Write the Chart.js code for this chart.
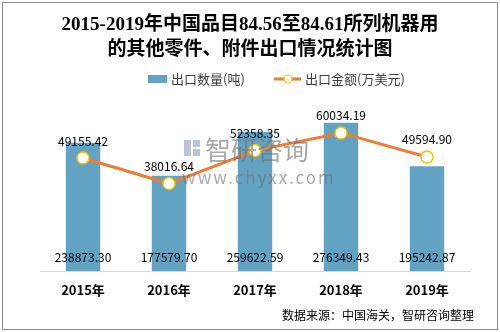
<!DOCTYPE html>
<html lang="zh">
<head>
  <meta charset="UTF-8" />
  <title>2015-2019年出口情况统计图</title>
  <script src="https://cdn.jsdelivr.net/npm/chart.js"></script>
  <style>
    html, body { margin: 0; padding: 0; background: #fff; }
    #wrap { width: 500px; height: 332px; }
  </style>
</head>
<body>
  <div id="wrap">
    <canvas id="exportChart" width="500" height="332"></canvas>
  </div>

  <script>
    // chart data
    const years = ["2015年", "2016年", "2017年", "2018年", "2019年"];
    const qtyTons = [238873.30, 177579.70, 259622.59, 276349.43, 195242.87];
    const valueUsd = [49155.42, 38016.64, 52358.35, 60034.19, 49594.90];
    const titleLines = ["2015-2019年中国品目84.56至84.61所列机器用", "的其他零件、附件出口情况统计图"];
    const seriesNames = ["出口数量(吨)", "出口金额(万美元)"];
    const sourceText = "数据来源：中国海关，智研咨询整理";

    const BAR_COLOR = "#62a3c4";
    const LINE_COLOR = "#ed7d31";
    const MARKER_EDGE = "#ffc000";
    const CJK = '"Noto Sans CJK SC", "Noto Sans", sans-serif';

    // draws title, legend, value labels, watermark, source and frame
    const decorations = {
      id: "decorations",
      afterDatasetsDraw(chart) {
        const ctx = chart.ctx;
        ctx.save();

        // watermark
        ctx.globalAlpha = 0.6;
        ctx.fillStyle = "#8a9bb5";
        ctx.fillRect(184, 140, 7, 16);
        ctx.fillRect(193, 140, 7, 7);
        ctx.fillRect(193, 149, 7, 7);
        ctx.fillStyle = "#707070";
        ctx.font = "26px " + CJK;
        ctx.textAlign = "left";
        ctx.textBaseline = "middle";
        ctx.fillText("智研咨询", 205, 150);
        ctx.font = "17px " + CJK;
        ctx.letterSpacing = "2px";
        ctx.fillText("www.chyxx.com", 182, 178);
        ctx.letterSpacing = "0px";
        ctx.globalAlpha = 1;

        // value labels
        ctx.fillStyle = "#000";
        ctx.font = "12px " + CJK;
        ctx.textAlign = "center";
        ctx.textBaseline = "middle";
        chart.getDatasetMeta(1).data.forEach((bar, i) => {
          ctx.fillText(qtyTons[i].toFixed(2), bar.x, chart.chartArea.bottom - 14);
        });
        chart.getDatasetMeta(0).data.forEach((pt, i) => {
          ctx.fillText(valueUsd[i].toFixed(2), pt.x, pt.y - 17);
        });

        ctx.restore();
      },
      afterDraw(chart) {
        const ctx = chart.ctx;
        ctx.save();

        // title
        ctx.fillStyle = "#000";
        ctx.textAlign = "center";
        ctx.textBaseline = "middle";
        ctx.font = 'bold 19px "Liberation Serif", ' + CJK;
        ctx.fillText(titleLines[0], 250, 25);
        ctx.fillText(titleLines[1], 250, 50);

        // legend
        ctx.font = "13px " + CJK;
        ctx.textAlign = "left";
        ctx.fillStyle = BAR_COLOR;
        ctx.fillRect(148, 75, 19, 8);
        ctx.fillStyle = "#404040";
        ctx.fillText(seriesNames[0], 171, 79);

        ctx.strokeStyle = LINE_COLOR;
        ctx.lineWidth = 3;
        ctx.beginPath();
        ctx.moveTo(274, 79);
        ctx.lineTo(301, 79);
        ctx.stroke();
        ctx.beginPath();
        ctx.arc(288, 79, 4, 0, Math.PI * 2);
        ctx.fillStyle = "#fff";
        ctx.fill();
        ctx.lineWidth = 1.2;
        ctx.strokeStyle = MARKER_EDGE;
        ctx.stroke();
        ctx.fillStyle = "#404040";
        ctx.fillText(seriesNames[1], 305, 79);

        // source
        ctx.fillStyle = "#000";
        ctx.font = "12px " + CJK;
        ctx.textAlign = "right";
        ctx.fillText(sourceText, 474, 315);

        // frame
        ctx.strokeStyle = "#8c8c8c";
        ctx.lineWidth = 1;
        ctx.strokeRect(2.5, 2.5, 495, 327);

        ctx.restore();
      }
    };

    const ctx = document.getElementById("exportChart").getContext("2d");
    new Chart(ctx, {
      data: {
        labels: years,
        datasets: [
          {
            type: "line",
            label: seriesNames[1],
            data: valueUsd,
            yAxisID: "y1",
            order: 0,
            borderColor: LINE_COLOR,
            borderWidth: 3,
            tension: 0,
            pointRadius: 6,
            pointBackgroundColor: "#fff",
            pointBorderColor: MARKER_EDGE,
            pointBorderWidth: 1.5
          },
          {
            type: "bar",
            label: seriesNames[0],
            data: qtyTons,
            yAxisID: "y",
            order: 1,
            backgroundColor: BAR_COLOR,
            categoryPercentage: 0.8,
            barPercentage: 0.5
          }
        ]
      },
      options: {
        responsive: false,
        animation: false,
        layout: { padding: { top: 110, left: 40, right: 30, bottom: 21 } },
        plugins: {
          legend: { display: false },
          title: { display: false },
          tooltip: { enabled: false }
        },
        scales: {
          x: {
            grid: { display: false, drawTicks: false },
            border: { display: true, color: "#d9d9d9", width: 1 },
            ticks: {
              color: "#000",
              padding: 11,
              font: { family: CJK, size: 13, weight: "bold" }
            },
            afterFit: (scale) => { scale.height = 40; }
          },
          y: { display: false, min: 0, max: 300000 },
          y1: { display: false, min: 0, max: 70000, position: "right" }
        }
      },
      plugins: [decorations]
    });
  </script>
</body>
</html>
